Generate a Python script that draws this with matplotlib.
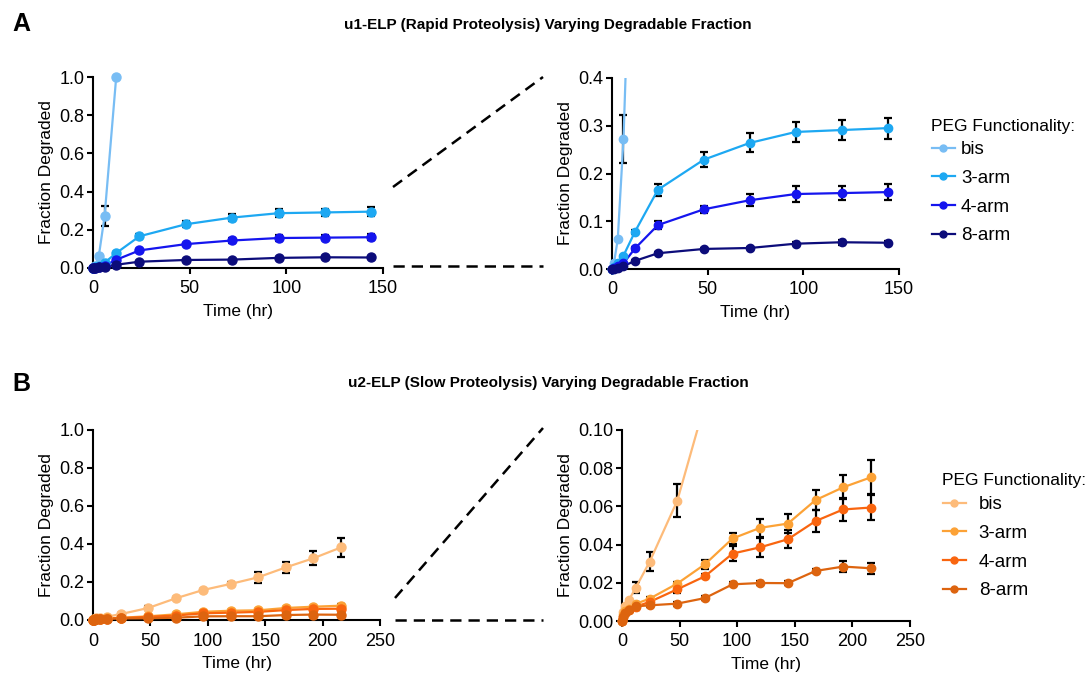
import matplotlib
matplotlib.use("Agg")
import matplotlib.pyplot as plt
from matplotlib.lines import Line2D
import numpy as np

plt.rcParams['font.family'] = ['Liberation Sans', 'DejaVu Sans']

W, H = 1090, 677

# ---- panel A: u1-ELP (rapid proteolysis) ----
t_bis_a = [0, 1, 3, 6, 12]
bis_a = [0, 0.012, 0.062, 0.272, 1.0]
bis_a_err = [0, 0, 0, 0.05, 0]

t_a = [0, 1, 3, 6, 12, 24, 48, 72, 96, 120, 144]
arm3_a = [0, 0.004, 0.012, 0.028, 0.078, 0.166, 0.229, 0.264, 0.287, 0.291, 0.295]
arm3_a_err = [0, 0, 0, 0, 0.004, 0.013, 0.016, 0.02, 0.02, 0.02, 0.022]
arm4_a = [0, 0.002, 0.006, 0.012, 0.043, 0.092, 0.125, 0.144, 0.157, 0.159, 0.161]
arm4_a_err = [0, 0, 0, 0, 0.003, 0.008, 0.007, 0.013, 0.016, 0.015, 0.016]
arm8_a = [0, 0.001, 0.003, 0.006, 0.017, 0.033, 0.042, 0.044, 0.053, 0.056, 0.055]
arm8_a_err = [0, 0, 0, 0, 0.002, 0.002, 0.002, 0.002, 0.003, 0.005, 0.003]

# ---- panel B: u2-ELP (slow proteolysis) ----
t_b = [0, 1, 3, 6, 12, 24, 48, 72, 96, 120, 144, 168, 192, 216]
bis_b = [0, 0.0047, 0.008, 0.011, 0.0175, 0.031, 0.063, 0.114, 0.158, 0.19, 0.225, 0.277, 0.325, 0.382]
bis_b_err = [0, 0, 0, 0, 0.003, 0.005, 0.0087, 0.005, 0.006, 0.008, 0.029, 0.03, 0.038, 0.048]
arm3_b = [0, 0.003, 0.005, 0.0065, 0.009, 0.0117, 0.0196, 0.0297, 0.0432, 0.0488, 0.051, 0.0633, 0.07, 0.0752]
arm3_b_err = [0, 0, 0, 0, 0.001, 0.001, 0.001, 0.0023, 0.003, 0.0048, 0.0048, 0.0054, 0.0063, 0.0089]
arm4_b = [0, 0.002, 0.004, 0.0056, 0.0075, 0.01, 0.0166, 0.0234, 0.0353, 0.0386, 0.0428, 0.0523, 0.0584, 0.0594]
arm4_b_err = [0, 0, 0, 0, 0.002, 0.001, 0.002, 0.001, 0.0039, 0.005, 0.0048, 0.0057, 0.0061, 0.0067]
arm8_b = [0, 0.002, 0.004, 0.006, 0.0077, 0.0082, 0.0091, 0.012, 0.0192, 0.0199, 0.0198, 0.0262, 0.0285, 0.0276]
arm8_b_err = [0, 0, 0, 0, 0.001, 0.001, 0.001, 0.001, 0.001, 0.001, 0.001, 0.001, 0.003, 0.0028]

labels = ['bis', '3-arm', '4-arm', '8-arm']
blues = ['#78BDF4', '#1DA8F2', '#1515EE', '#0C0C7A']
oranges = ['#FDBB7A', '#FCA236', '#F9650F', '#DD640F']

FS = 12.5
TICK_FS = 13


def px_axes(fig, left, right, bottom, top):
    # axes box from pixel edges of the reference image
    return fig.add_axes([left / W, 1 - bottom / H, (right - left) / W, (bottom - top) / H])


def style(ax, xlim, xticks, ylim, yticks, yfmt):
    ax.set_xlim(*xlim)
    ax.set_ylim(*ylim)
    ax.set_xticks(xticks)
    ax.set_yticks(yticks)
    ax.set_yticklabels([yfmt.format(v) for v in yticks])
    for s in ['top', 'right']:
        ax.spines[s].set_visible(False)
    for s in ['left', 'bottom']:
        ax.spines[s].set_linewidth(1.5)
    ax.tick_params(direction='out', length=4.5, width=1.5, labelsize=TICK_FS)
    ax.tick_params(axis='x', pad=4.5)
    ax.tick_params(axis='y', pad=1.5)
    ax.set_xlabel('Time (hr)', fontsize=FS, labelpad=5)
    ax.set_ylabel('Fraction Degraded', fontsize=FS, labelpad=4)


def draw_series(ax, series, colors, ms, ytop):
    handles = []
    for (t, y, e), c, lab in zip(series, colors, labels):
        t = np.array(t)
        y = np.array(y)
        ax.errorbar(t, y, yerr=e, fmt='none', ecolor='black', elinewidth=1.6,
                    capsize=3, capthick=1.6, zorder=2)
        ax.plot(t, y, '-', color=c, lw=1.6, zorder=3)
        keep = y <= ytop
        ax.plot(t[keep], y[keep], 'o', color=c, ms=ms, zorder=4, clip_on=False)
        handles.append(Line2D([], [], color=c, lw=1.6, marker='o', ms=5, label=lab))
    return handles


def dashed(fig, x0, y0, x1, y1):
    fig.add_artist(Line2D([x0 / W, x1 / W], [1 - y0 / H, 1 - y1 / H],
                          transform=fig.transFigure, color='black', lw=1.8,
                          ls=(0, (4.5, 2.8))))


def legend(fig, handles, x, y_title, y_top, textpad):
    fig.text(x / W, 1 - y_title / H, 'PEG Functionality:', ha='left', va='center', fontsize=FS)
    fig.legend(handles=handles, loc='upper left', bbox_to_anchor=((x + 1) / W, 1 - y_top / H),
               frameon=False, borderpad=0, borderaxespad=0, handlelength=1.2,
               handletextpad=textpad, labelspacing=0.62, fontsize=13.5)


fig = plt.figure(figsize=(W / 100, H / 100), dpi=100)

series_a = [(t_bis_a, bis_a, bis_a_err), (t_a, arm3_a, arm3_a_err),
            (t_a, arm4_a, arm4_a_err), (t_a, arm8_a, arm8_a_err)]
series_b = [(t_b, bis_b, bis_b_err), (t_b, arm3_b, arm3_b_err),
            (t_b, arm4_b, arm4_b_err), (t_b, arm8_b, arm8_b_err)]

ax1 = px_axes(fig, 93, 383, 268, 77)
draw_series(ax1, series_a, blues, 6.5, 1.0)
style(ax1, (0, 150), [0, 50, 100, 150], (0, 1.0), [0, 0.2, 0.4, 0.6, 0.8, 1.0], '{:.1f}')

ax2 = px_axes(fig, 612, 899, 269, 78)
hA = draw_series(ax2, series_a, blues, 6, 0.4)
style(ax2, (0, 150), [0, 50, 100, 150], (0, 0.4), [0, 0.1, 0.2, 0.3, 0.4], '{:.1f}')

ax3 = px_axes(fig, 93, 380, 620, 430)
draw_series(ax3, series_b, oranges, 6.5, 1.0)
style(ax3, (0, 250), [0, 50, 100, 150, 200, 250], (0, 1.0), [0, 0.2, 0.4, 0.6, 0.8, 1.0], '{:.1f}')

ax4 = px_axes(fig, 622, 910, 621, 430)
hB = draw_series(ax4, series_b, oranges, 6, 0.10)
style(ax4, (0, 250), [0, 50, 100, 150, 200, 250], (0, 0.10), [0, 0.02, 0.04, 0.06, 0.08, 0.10], '{:.2f}')

# zoom connector lines
dashed(fig, 393, 187, 543, 77)
dashed(fig, 393, 266, 543, 266)
dashed(fig, 395, 598, 543, 428)
dashed(fig, 395, 620, 543, 620)

# titles and panel letters
fig.text(548 / W, 1 - 25 / H, 'u1-ELP (Rapid Proteolysis) Varying Degradable Fraction',
         ha='center', va='center', fontsize=11, fontweight='bold')
fig.text(548 / W, 1 - 383 / H, 'u2-ELP (Slow Proteolysis) Varying Degradable Fraction',
         ha='center', va='center', fontsize=11, fontweight='bold')
fig.text(12 / W, 1 - 24 / H, 'A', ha='left', va='center', fontsize=18, fontweight='bold')
fig.text(12 / W, 1 - 384 / H, 'B', ha='left', va='center', fontsize=18, fontweight='bold')

legend(fig, hA, 931, 127, 141, 0.35)
legend(fig, hB, 942, 480, 496, 0.7)

fig.savefig('out.png', dpi=100)
